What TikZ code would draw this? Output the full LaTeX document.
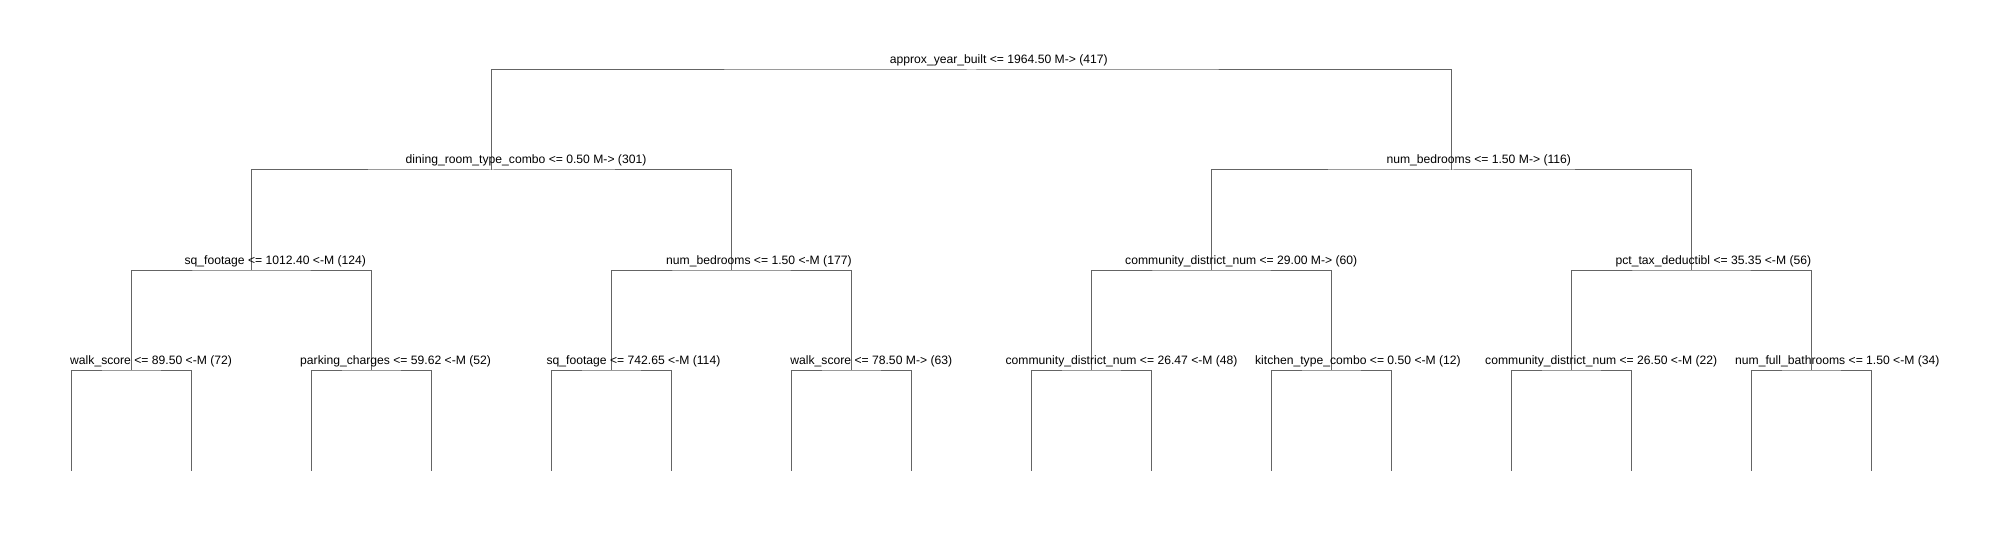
\documentclass[tikz,border=0pt]{standalone}
\usepackage{fontspec}
\setmainfont{Liberation Sans}
\begin{document}
\begin{tikzpicture}[x=1pt,y=-1pt,
  edge/.style={draw={rgb,255:red,100;green,100;blue,100},line width=1pt},
  lab/.style={anchor=base west,inner sep=0pt,font=\fontsize{12.15}{14}\selectfont}]
\useasboundingbox[fill=white] (0,0) rectangle (2010,540);
% tree node positions
\coordinate (n1) at (971.5,70);
\coordinate (n2) at (491.5,170);
\coordinate (n3) at (1451.5,170);
\coordinate (n4) at (251.5,270);
\coordinate (n5) at (731.5,270);
\coordinate (n6) at (1211.5,270);
\coordinate (n7) at (1691.5,270);
\coordinate (n8) at (131.5,370);
\coordinate (n9) at (371.5,370);
\coordinate (n10) at (611.5,370);
\coordinate (n11) at (851.5,370);
\coordinate (n12) at (1091.5,370);
\coordinate (n13) at (1331.5,370);
\coordinate (n14) at (1571.5,370);
\coordinate (n15) at (1811.5,370);
\foreach \i in {0,...,15}{
  \coordinate (leaf\i) at ({71.5+120*\i},470.5);
}
% connectors
\draw[edge] (n2) |- (n1) -| (n3);
\draw[edge] (n4) |- (n2) -| (n5);
\draw[edge] (n6) |- (n3) -| (n7);
\draw[edge] (n8) |- (n4) -| (n9);
\draw[edge] (n10) |- (n5) -| (n11);
\draw[edge] (n12) |- (n6) -| (n13);
\draw[edge] (n14) |- (n7) -| (n15);
\draw[edge] (leaf0) |- (n8) -| (leaf1);
\draw[edge] (leaf2) |- (n9) -| (leaf3);
\draw[edge] (leaf4) |- (n10) -| (leaf5);
\draw[edge] (leaf6) |- (n11) -| (leaf7);
\draw[edge] (leaf8) |- (n12) -| (leaf9);
\draw[edge] (leaf10) |- (n13) -| (leaf11);
\draw[edge] (leaf12) |- (n14) -| (leaf13);
\draw[edge] (leaf14) |- (n15) -| (leaf15);
% labels
\node[lab] (t1) at (889.7,64) {approx\_year\_built <= 1964.50 M-> (417)};
\node[lab] (t2) at (405.4,164) {dining\_room\_type\_combo <= 0.50 M-> (301)};
\node[lab] (t3) at (1386.3,164) {num\_bedrooms <= 1.50 M-> (116)};
\node[lab] (t4) at (184.4,264) {sq\_footage <= 1012.40 <-M (124)};
\node[lab] (t5) at (666,264) {num\_bedrooms <= 1.50 <-M (177)};
\node[lab] (t6) at (1125,264) {community\_district\_num <= 29.00 M-> (60)};
\node[lab] (t7) at (1615.4,264) {pct\_tax\_deductibl <= 35.35 <-M (56)};
\node[lab] (t8) at (70,364) {walk\_score <= 89.50 <-M (72)};
\node[lab] (t9) at (300,364) {parking\_charges <= 59.62 <-M (52)};
\node[lab] (t10) at (546.4,364) {sq\_footage <= 742.65 <-M (114)};
\node[lab] (t11) at (790.2,364) {walk\_score <= 78.50 M-> (63)};
\node[lab] (t12) at (1005.4,364) {community\_district\_num <= 26.47 <-M (48)};
\node[lab] (t13) at (1254.9,364) {kitchen\_type\_combo <= 0.50 <-M (12)};
\node[lab] (t14) at (1485,364) {community\_district\_num <= 26.50 <-M (22)};
\node[lab] (t15) at (1735,364) {num\_full\_bathrooms <= 1.50 <-M (34)};
\end{tikzpicture}
\end{document}
